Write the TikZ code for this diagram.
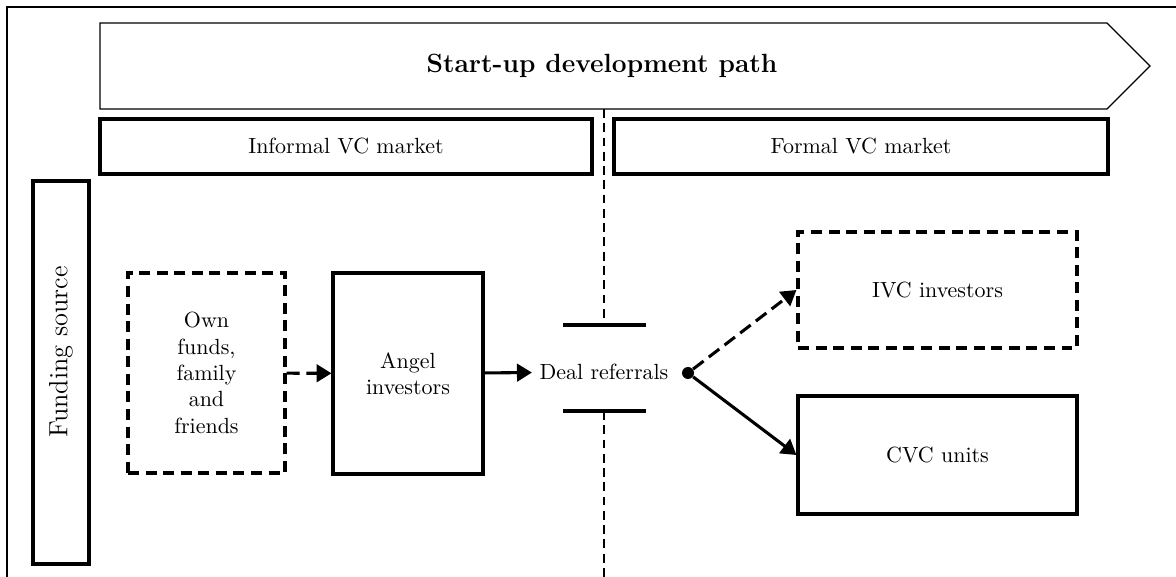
\documentclass[tikz,border=0pt]{standalone}
\usetikzlibrary{arrows.meta}
\newcommand{\pxu}{0.016cm}
\tikzset{
  box/.style={draw, line width=1.4pt, align=center, inner sep=2pt},
  dashbox/.style={box, dash pattern=on 5pt off 3pt},
  link/.style={line width=1.4pt, -{Triangle[length=6.8pt,width=8pt]}},
  dashlink/.style={link, dash pattern=on 6pt off 3pt},
  bar/.style={line width=2.2pt},
  divider/.style={line width=0.5pt, dash pattern=on 4pt off 2.5pt},
}
\begin{document}
\begin{tikzpicture}[x=\pxu, y=-\pxu]
  \useasboundingbox (0,0) rectangle (1176,577);
  % frame
  \draw[semithick] (1176,7) -- (7,7) -- (7,577);
  % development path banner
  \draw[semithick] (100,23) -- (1107,23) -- (1150,66) -- (1107,109) -- (100,109) -- cycle;
  \node[font=\large\bfseries] (devpath) at (602,66) {Start-up development path};
  % markets
  \node[box, minimum width=492*\pxu, minimum height=55*\pxu] (informal) at (346,146.5) {Informal VC market};
  \node[box, minimum width=494*\pxu, minimum height=55*\pxu] (formal) at (861,146.5) {Formal VC market};
  % funding source
  \node[box, minimum width=56*\pxu, minimum height=383*\pxu] (funding) at (61,372.5) {};
  \node[rotate=90, font=\large] (fundlabel) at (61,352) {Funding source};
  % investors
  \node[dashbox, minimum width=157*\pxu, minimum height=200*\pxu] (own) at (206.5,373) {Own\\funds,\\family\\and\\friends};
  \node[box, minimum width=150*\pxu, minimum height=201*\pxu] (angel) at (408,373.5) {Angel\\investors};
  \node (deal) at (604,372) {Deal referrals};
  \node[circle, fill, inner sep=0pt, minimum size=12*\pxu] (split) at (688,373) {};
  \node[dashbox, minimum width=279*\pxu, minimum height=116*\pxu] (ivc) at (937.5,290) {IVC investors};
  \node[box, minimum width=279*\pxu, minimum height=118*\pxu] (cvc) at (937.5,455) {CVC units};
  % divider with gap
  \coordinate (divtop) at (604,109);
  \coordinate (gapT) at (604,325);
  \coordinate (gapB) at (604,411);
  \coordinate (divbot) at (604,577);
  \draw[bar] (563,325) -- (646,325);
  \draw[bar] (563,411) -- (646,411);
  \draw[divider] (divtop) -- (gapT);
  \draw[divider] (gapB) -- (divbot);
  % flows
  \draw[dashlink] (own) -- (angel);
  \draw[link] (angel) -- (deal);
  \draw[dashlink] (split) -- (ivc.west);
  \draw[link] (split) -- (cvc.west);
\end{tikzpicture}
\end{document}
